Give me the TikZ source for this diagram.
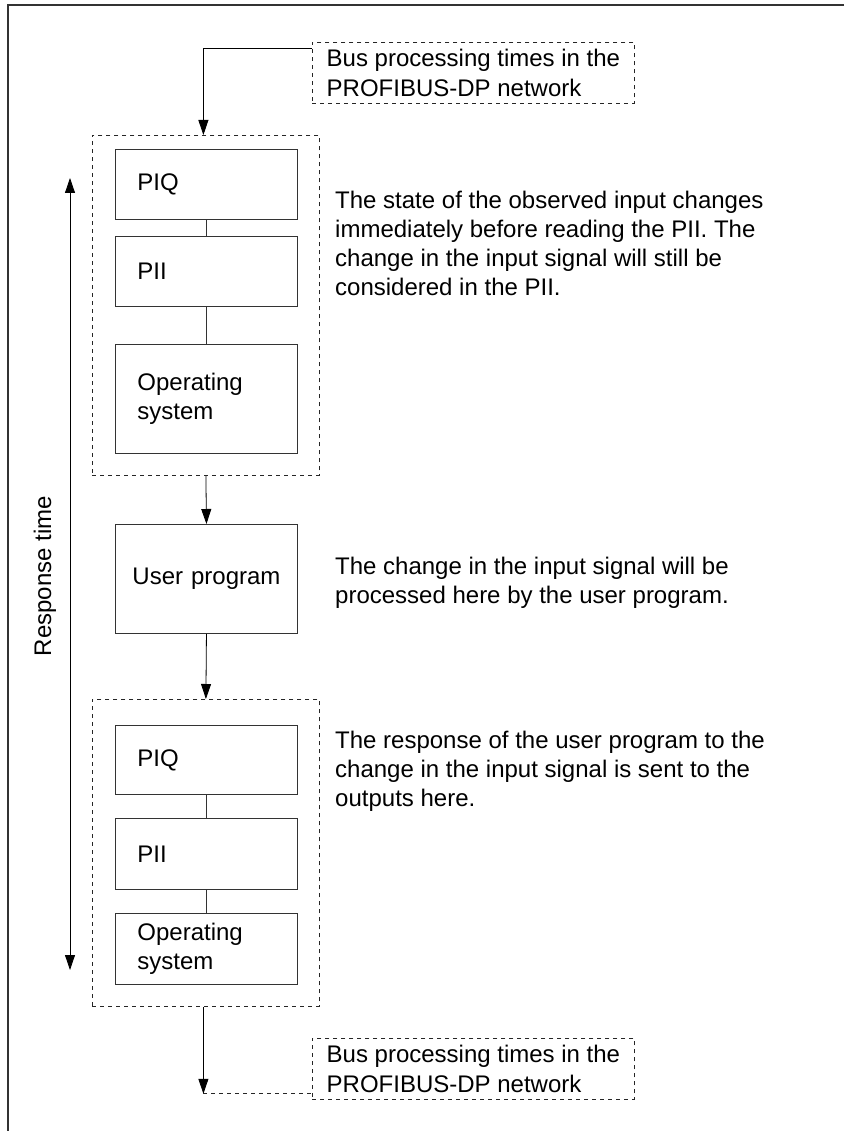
\documentclass[tikz,border=0pt]{standalone}
\usepackage{fontspec}
\setmainfont{Liberation Sans}
\usetikzlibrary{arrows.meta}

\tikzset{
  txt/.style={font=\fontsize{24}{29}\selectfont},
  stagebox/.style={txt, draw=black!80, line width=0.9pt, anchor=north west,
    text width=138pt, align=left, inner xsep=22pt, inner ysep=0pt},
  groupbox/.style={draw=black!85, line width=0.8pt, dash pattern=on 4pt off 4pt,
    anchor=north west, minimum width=227pt, inner sep=0pt},
  busbox/.style={draw=black!85, line width=0.8pt, dash pattern=on 4pt off 4pt,
    anchor=north west, align=left, inner xsep=12pt, inner ysep=0pt,
    minimum width=322pt, minimum height=61pt, font=\fontsize{24}{30}\selectfont},
  note/.style={txt, anchor=north west, align=left, inner sep=0pt},
  flow/.style={draw=black, line width=0.8pt, -{Triangle[length=15pt,width=10pt]}},
  link/.style={draw=black!80, line width=0.9pt},
  frameline/.style={draw=black!80, line width=1.4pt},
}

\begin{document}
\begin{tikzpicture}[x=1pt,y=-1pt]
\useasboundingbox (0,0) rectangle (844,1131);

% page frame
\draw[frameline] (844,5) -- (8,5) -- (8,1131);

% bus time boxes
\node[busbox] (busA) at (312,42) {Bus processing times in the\\PROFIBUS-DP network};
\node[busbox] (busB) at (312,1038) {Bus processing times in the\\PROFIBUS-DP network};

% first cycle group
\node[groupbox, minimum height=340pt] (outA) at (92,135) {};
\node[stagebox, minimum height=70pt]  (piqA) at (115,149) {PIQ};
\node[stagebox, minimum height=70pt]  (piiA) at (115,236) {PII};
\node[stagebox, minimum height=109pt] (osA)  at (115,344) {Operating\\system};

% user program
\node[stagebox, text width=162pt, inner xsep=10pt, align=center,
      minimum height=109pt] (user) at (115,524) {User program};

% second cycle group
\node[groupbox, minimum height=307pt] (outB) at (92,699) {};
\node[stagebox, minimum height=69pt] (piqB) at (115,725) {PIQ};
\node[stagebox, minimum height=71pt] (piiB) at (115,818) {PII};
\node[stagebox, minimum height=71pt] (osB)  at (115,913) {Operating\\system};

% explanations
\node[note] (noteA) at (335,191) {The state of the observed input changes\\immediately before reading the PII. The\\change in the input signal will still be\\considered in the PII.};
\node[note] (noteB) at (335,557) {The change in the input signal will be\\processed here by the user program.};
\node[note] (noteC) at (335,731) {The response of the user program to the\\change in the input signal is sent to the\\outputs here.};

% links inside the groups
\draw[link] (piqA) -- (piiA);
\draw[link] (piiA) -- (osA);
\draw[link] (piqB) -- (piiB);
\draw[link] (piiB) -- (osB);

% flow of the cycle
\coordinate (busAtap) at ([yshift=-6pt]busA.north west);
\draw[flow] (busAtap) -| ([xshift=-2.5pt]outA.north);
\draw[flow] (outA.south) -- (user.north);
\draw[flow] (user.south) -- (outB.north);
\coordinate (busBtap) at ([yshift=6pt]busB.south west);
\coordinate (outBdrop) at ([xshift=-2.5pt]outB.south);
\draw[flow] (outBdrop) -- (outBdrop |- busBtap);
\draw[draw=black!85, line width=0.8pt, dash pattern=on 4pt off 4pt]
  (outBdrop |- busBtap) -- (busBtap);

% response time
\coordinate (rtTop) at (70,178);
\coordinate (rtBot) at (70,970);
\draw[flow, {Triangle[length=15pt,width=10pt]}-{Triangle[length=15pt,width=10pt]}] (rtTop) -- (rtBot);
\node[txt, rotate=90, inner sep=0pt] (rtLabel) at (45,576) {Response time};
\end{tikzpicture}
\end{document}
